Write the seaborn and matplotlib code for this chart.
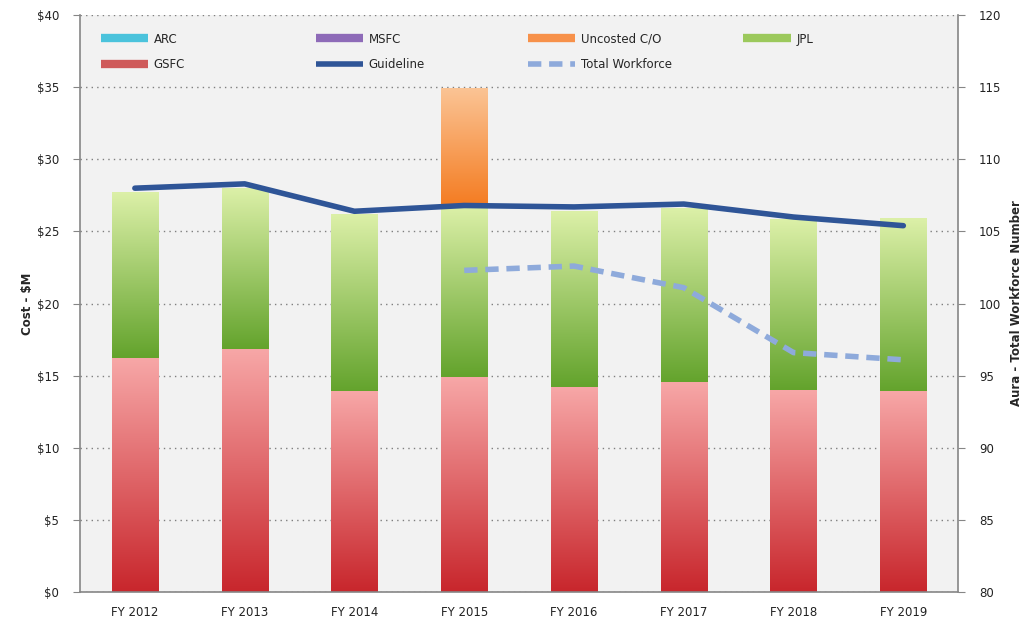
import matplotlib
matplotlib.use('Agg')

import numpy as np
import pandas as pd
import matplotlib.pyplot as plt
import seaborn as sns
from matplotlib.colors import LinearSegmentedColormap
from matplotlib.lines import Line2D
from matplotlib.ticker import FixedLocator

# =========================
# DATA
# =========================
years = ['FY 2012', 'FY 2013', 'FY 2014', 'FY 2015', 'FY 2016', 'FY 2017', 'FY 2018', 'FY 2019']
gsfc = [16.2, 16.8, 13.9, 14.9, 14.2, 14.5, 14.0, 13.9]
jpl = [11.5, 11.2, 12.3, 11.8, 12.2, 12.1, 11.8, 12.0]
arc = [0, 0, 0, 0, 0, 0, 0, 0]
msfc = [0, 0, 0, 0, 0, 0, 0, 0]
uncosted = [0, 0, 0, 8.2, 0, 0, 0, 0]
guideline = [28.0, 28.3, 26.4, 26.8, 26.7, 26.9, 26.0, 25.4]
wf_years = ['FY 2015', 'FY 2016', 'FY 2017', 'FY 2018', 'FY 2019']
workforce = [102.3, 102.6, 101.1, 96.6, 96.1]

cost_ticks = [0, 5, 10, 15, 20, 25, 30, 35, 40]
wf_ticks = [80, 85, 90, 95, 100, 105, 110, 115, 120]

# =========================
# COLOURS
# =========================
c_arc = '#4bc3dc'
c_msfc = '#8e6bb8'
c_unc = '#f7914a'
c_jpl = '#9cc95c'
c_gsfc = '#cf5a5a'
c_guide = '#2f5597'
c_wf = '#8eaadb'

sns.set_style('white')
plt.rcParams['font.family'] = ['DejaVu Sans']

fig = plt.figure(figsize=(10.32, 6.25), dpi=100)
ax = fig.add_axes([0.0775, 0.0528, 0.851, 0.923])
ax.set_facecolor('#f2f2f2')

df = pd.DataFrame({'year': years, 'gsfc': gsfc, 'jpl': jpl, 'unc': uncosted})
df['l1'] = df['gsfc']
df['l2'] = df['gsfc'] + df['jpl']
df['l3'] = df['l2'] + df['unc']

bar_w = 0.42


def gradient_bars(patches, lowers, c_bot, c_top):
    cmap = LinearSegmentedColormap.from_list('g', [c_bot, c_top])
    grad = np.linspace(0, 1, 256).reshape(-1, 1)
    for p, lo in zip(patches, lowers):
        x0 = p.get_x()
        top = p.get_y() + p.get_height()
        p.set_visible(False)
        if top - lo <= 0.01:
            continue
        ax.imshow(grad, extent=(x0, x0 + p.get_width(), lo, top), origin='lower',
                  cmap=cmap, aspect='auto', zorder=2)


layers = [('l3', 'l2', '#f47b20', '#fbc495'),
          ('l2', 'l1', '#63a32c', '#dcf0a8'),
          ('l1', None, '#c8262c', '#f7a7a7')]
for col, low, cb, ct in layers:
    n0 = len(ax.patches)
    sns.barplot(data=df, x='year', y=col, ax=ax, color=cb, width=bar_w, zorder=2)
    new = ax.patches[n0:]
    lowers = df[low].tolist() if low else [0] * len(years)
    gradient_bars(new, lowers, cb, ct)

# Guideline
sns.lineplot(x=np.arange(len(years)), y=guideline, ax=ax, color=c_guide, lw=4, zorder=4)

ax.set_xlim(-0.5, len(years) - 0.5)
ax.set_ylim(0, 40)
ax.set_yticks(cost_ticks)
ax.set_yticklabels([f'${v}' for v in cost_ticks])
ax.set_xticks(range(len(years)))
ax.set_xticklabels(years)
ax.xaxis.set_minor_locator(FixedLocator(np.arange(-0.5, len(years), 1.0)))
ax.tick_params(axis='x', which='major', length=0, pad=10, labelsize=8.5, labelcolor='#222222')
ax.tick_params(axis='x', which='minor', length=5, color='#868686', direction='out')
ax.tick_params(axis='y', length=5, color='#868686', direction='out', left=True, labelsize=8.5,
               labelcolor='#222222', pad=10)
ax.grid(axis='y', color='#7f7f7f', linestyle=(0, (1, 3)), lw=1)
ax.set_axisbelow(True)
ax.set_xlabel('')
ax.set_ylabel('Cost - $M', fontsize=8.5, fontweight='bold', labelpad=2)
for s in ['top', 'right']:
    ax.spines[s].set_visible(False)
for s in ['left', 'bottom']:
    ax.spines[s].set_color('#868686')
    ax.spines[s].set_linewidth(1.2)

# =========================
# RIGHT AXIS: WORKFORCE
# =========================
ax2 = ax.twinx()
wf_x = [years.index(y) for y in wf_years]
sns.lineplot(x=wf_x, y=workforce, ax=ax2, color=c_wf, lw=4, linestyle=(0, (2.4, 1.4)), zorder=4)
ax2.set_ylim(80, 120)
ax2.set_yticks(wf_ticks)
ax2.tick_params(axis='y', length=5, color='#868686', direction='out', right=True, labelsize=8.5,
                labelcolor='#222222', pad=10)
ax2.set_ylabel('Aura - Total Workforce Number', fontsize=8.5, fontweight='bold', labelpad=6)
for s in ['top', 'left', 'bottom']:
    ax2.spines[s].set_visible(False)
ax2.spines['right'].set_color('#868686')
ax2.spines['right'].set_linewidth(1.2)
ax2.grid(False)

# =========================
# LEGEND (one column each, evenly spaced like the original)
# =========================
def swatch(c, lw=6, ls='-'):
    return Line2D([], [], color=c, lw=lw, linestyle=ls, solid_capstyle='butt', dash_capstyle='butt')


columns = [
    ([swatch(c_arc), swatch(c_gsfc)], ['ARC', 'GSFC']),
    ([swatch(c_msfc), swatch(c_guide, 4)], ['MSFC', 'Guideline']),
    ([swatch(c_unc), swatch(c_wf, 4, (0, (2.4, 1.4)))], ['Uncosted C/O', 'Total Workforce']),
    ([swatch(c_jpl)], ['JPL']),
]
col_x = [0.018, 0.263, 0.505, 0.75]
for i, ((h, l), x) in enumerate(zip(columns, col_x)):
    leg = ax2.legend(h, l, loc='upper left', bbox_to_anchor=(x, 0.978), frameon=False,
                     fontsize=8.5, handlelength=4.0, handletextpad=0.5, labelspacing=1.05,
                     borderaxespad=0.0)
    if i < len(columns) - 1:
        ax2.add_artist(leg)

plt.savefig('out.png', dpi=100)
print('Saved: out.png')
